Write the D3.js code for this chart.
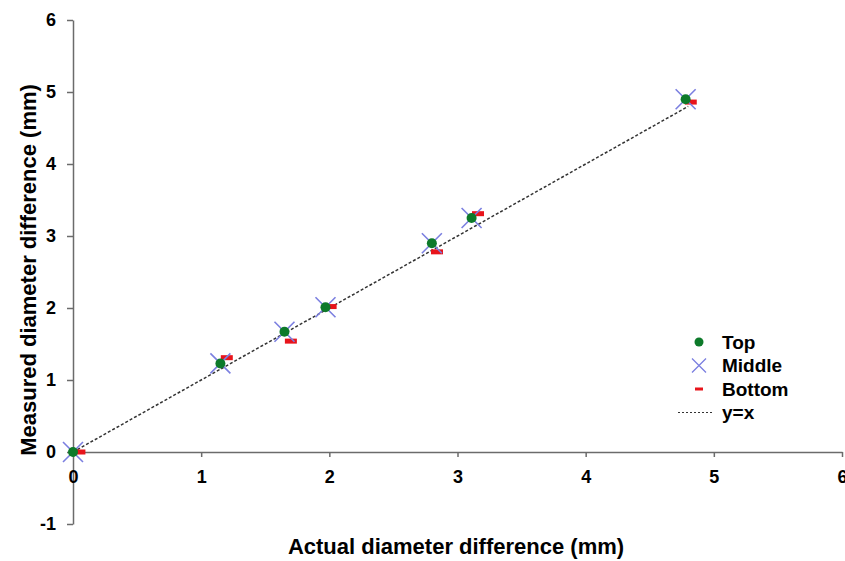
<!DOCTYPE html>
<html>
<head>
<meta charset="utf-8">
<script src="https://cdn.jsdelivr.net/npm/d3@7"></script>
<style>
  body { margin: 0; background: #fff; }
  svg text { font-family: "Liberation Sans", Arial, sans-serif; font-weight: bold; fill: #000; }
</style>
</head>
<body>
<svg id="chart"></svg>
<script>
// values
var topX = [0, 1.15, 1.65, 1.97, 2.80, 3.11, 4.78];
var topY = [0, 1.23, 1.67, 2.01, 2.90, 3.25, 4.90];
var middleX = [0, 1.15, 1.65, 1.97, 2.80, 3.11, 4.78];
var middleY = [0, 1.23, 1.67, 2.01, 2.90, 3.25, 4.90];
var bottomX = [0.05, 1.20, 1.70, 2.01, 2.84, 3.16, 4.82];
var bottomY = [0, 1.31, 1.54, 2.02, 2.78, 3.31, 4.86];
var lineX = [0, 4.8];
var xTicks = [0, 1, 2, 3, 4, 5, 6];
var yTicks = [-1, 0, 1, 2, 3, 4, 5, 6];
var legendNames = ['Top', 'Middle', 'Bottom', 'y=x'];

var width = 845, height = 561;
var svg = d3.select('#chart').attr('width', width).attr('height', height);

var x = d3.scaleLinear().domain([0, 6]).range([73, 842]);
var y = d3.scaleLinear().domain([-1, 6]).range([524, 20]);

var axisColor = '#6b6b6b';
var fmt = function(d) { return String(d); }; // plain hyphen for -1

// y axis on x=0
var yAxis = svg.append('g')
  .attr('transform', 'translate(' + x(0) + ',0)')
  .call(d3.axisLeft(y).tickValues(yTicks).tickSize(6).tickSizeOuter(0).tickFormat(fmt));
yAxis.select('.domain').attr('stroke', axisColor).attr('stroke-width', 1.5);
yAxis.selectAll('.tick line').attr('stroke', axisColor).attr('stroke-width', 1.5);
yAxis.selectAll('.tick text').attr('x', -17).style('font-size', '18px');

// x axis on y=0, labels pushed below
var xAxis = svg.append('g')
  .attr('transform', 'translate(0,' + y(0) + ')')
  .call(d3.axisBottom(x).tickValues(xTicks).tickSize(5).tickSizeOuter(0).tickFormat(fmt));
xAxis.select('.domain').attr('stroke', axisColor).attr('stroke-width', 1.5);
xAxis.selectAll('.tick line').attr('stroke', axisColor).attr('stroke-width', 1.5);
xAxis.selectAll('.tick text').attr('y', 18).style('font-size', '18px');

// y=x reference line
var line = d3.line().x(function(d) { return x(d); }).y(function(d) { return y(d); });
svg.append('path')
  .datum(lineX)
  .attr('d', line)
  .attr('fill', 'none')
  .attr('stroke', '#333')
  .attr('stroke-width', 1.5)
  .attr('stroke-dasharray', '3,2');

// Bottom: red dashes
svg.append('g').selectAll('rect')
  .data(bottomX)
  .enter().append('rect')
  .attr('x', function(d) { return x(d) - 6; })
  .attr('y', function(d, i) { return y(bottomY[i]) - 2.5; })
  .attr('width', 12)
  .attr('height', 5)
  .attr('fill', '#e8141b');

// Middle: blue crosses
svg.append('g').selectAll('path')
  .data(middleX)
  .enter().append('path')
  .attr('d', function(d, i) {
    var cx = x(d), cy = y(middleY[i]), s = 10;
    return 'M' + (cx - s) + ',' + (cy - s) + 'L' + (cx + s) + ',' + (cy + s) +
           'M' + (cx - s) + ',' + (cy + s) + 'L' + (cx + s) + ',' + (cy - s);
  })
  .attr('stroke', '#7b7fe0')
  .attr('stroke-width', 1.6)
  .attr('fill', 'none');

// Top: green dots
svg.append('g').selectAll('circle')
  .data(topX)
  .enter().append('circle')
  .attr('cx', function(d) { return x(d); })
  .attr('cy', function(d, i) { return y(topY[i]); })
  .attr('r', 5)
  .attr('fill', '#0d7a2a');

// Legend
var legend = svg.append('g').attr('class', 'legend');
legendNames.forEach(function(name, i) {
  var ly = 342 + i * 23.5;
  var sx = 699;
  if (i === 0) {
    legend.append('circle').attr('cx', sx).attr('cy', ly).attr('r', 4.5).attr('fill', '#0d7a2a');
  } else if (i === 1) {
    legend.append('path')
      .attr('d', 'M' + (sx - 7) + ',' + (ly - 7) + 'L' + (sx + 7) + ',' + (ly + 7) +
                 'M' + (sx - 7) + ',' + (ly + 7) + 'L' + (sx + 7) + ',' + (ly - 7))
      .attr('stroke', '#7b7fe0').attr('stroke-width', 1.3);
  } else if (i === 2) {
    legend.append('rect').attr('x', sx - 4).attr('y', ly - 1.5).attr('width', 8).attr('height', 3).attr('fill', '#e8141b');
  } else {
    legend.append('line').attr('x1', 678).attr('x2', 713).attr('y1', ly).attr('y2', ly)
      .attr('stroke', '#333').attr('stroke-width', 1.2).attr('stroke-dasharray', '2,2');
  }
  legend.append('text')
    .attr('x', 722)
    .attr('y', ly)
    .attr('dy', '0.36em')
    .style('font-size', '19px')
    .text(name);
});

// Axis titles
svg.append('text')
  .attr('x', 456)
  .attr('y', 554)
  .attr('text-anchor', 'middle')
  .style('font-size', '22px')
  .text('Actual diameter difference (mm)');

svg.append('text')
  .attr('transform', 'translate(36,270) rotate(-90)')
  .attr('text-anchor', 'middle')
  .style('font-size', '22px')
  .text('Measured diameter difference (mm)');
</script>
</body>
</html>
